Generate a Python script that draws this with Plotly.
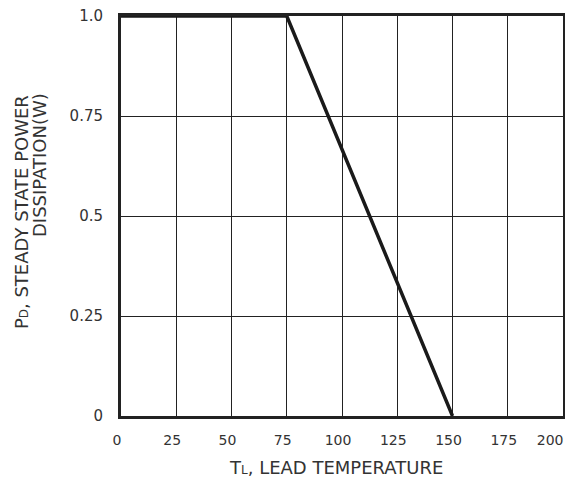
import plotly.graph_objects as go

temp = [0, 75, 150]
power = [1.0, 1.0, 0.0]
x_ticks = [0, 25, 50, 75, 100, 125, 150, 175, 200]
x_tick_labels = ["0", "25", "50", "75", "100", "125", "150", "175", "200"]
y_ticks = [0, 0.25, 0.5, 0.75, 1.0]
y_tick_labels = ["0", "0.25", "0.5", "0.75", "1.0"]

# keep the last x label inside the visible page (pad it on the right)
x_text = x_tick_labels[:-1] + [x_tick_labels[-1] + "\u00a0" * 4]

fig = go.Figure()
fig.add_trace(go.Scatter(x=temp, y=power, mode="lines",
                         line=dict(color="#1a1a1a", width=3.5), showlegend=False))

fam = "DejaVu Sans, Liberation Sans, Arial, sans-serif"
tickfont = dict(family=fam, size=15, color="#333333")
xtickfont = dict(family=fam, size=14, color="#333333")
titlefont = dict(family=fam, size=18, color="#333333")
fig.update_layout(
    width=565, height=472,
    margin=dict(l=113, r=10, t=8, b=64, autoexpand=False),
    paper_bgcolor="white", plot_bgcolor="white",
    font=tickfont,
    xaxis=dict(range=[0, 200], tickvals=x_ticks, ticktext=x_text, showgrid=True,
               gridcolor="#222222", gridwidth=1, showline=True, mirror=True,
               linecolor="#222222", linewidth=3, zeroline=False, ticks="",
               ticklabelstandoff=9, tickfont=xtickfont,
               ticklabeloverflow="allow", ticklabelshift=-4, automargin=False),
    yaxis=dict(range=[0, 1], tickvals=y_ticks, ticktext=y_tick_labels, showgrid=True,
               gridcolor="#222222", gridwidth=1, showline=True, mirror=True,
               linecolor="#222222", linewidth=3, zeroline=False, ticks="",
               ticklabelstandoff=12, tickfont=tickfont, ticklabeloverflow="allow",
               automargin=False),
    annotations=[
        dict(text="P<span style='font-size:12px'>D</span>, STEADY STATE POWER", textangle=-90,
             xref="paper", yref="paper", x=-0.226, y=0.51, showarrow=False,
             xanchor="center", yanchor="middle", font=titlefont),
        dict(text="DISSIPATION(W)", textangle=-90,
             xref="paper", yref="paper", x=-0.1855, y=0.6275, showarrow=False,
             xanchor="center", yanchor="middle", font=titlefont),
        dict(text="T<span style='font-size:12px'>L</span>, LEAD TEMPERATURE", xref="paper",
             yref="paper", x=0.4875, y=-0.16, showarrow=False, xanchor="center",
             yanchor="bottom", font=titlefont),
    ],
)
fig.write_html("out.html")
